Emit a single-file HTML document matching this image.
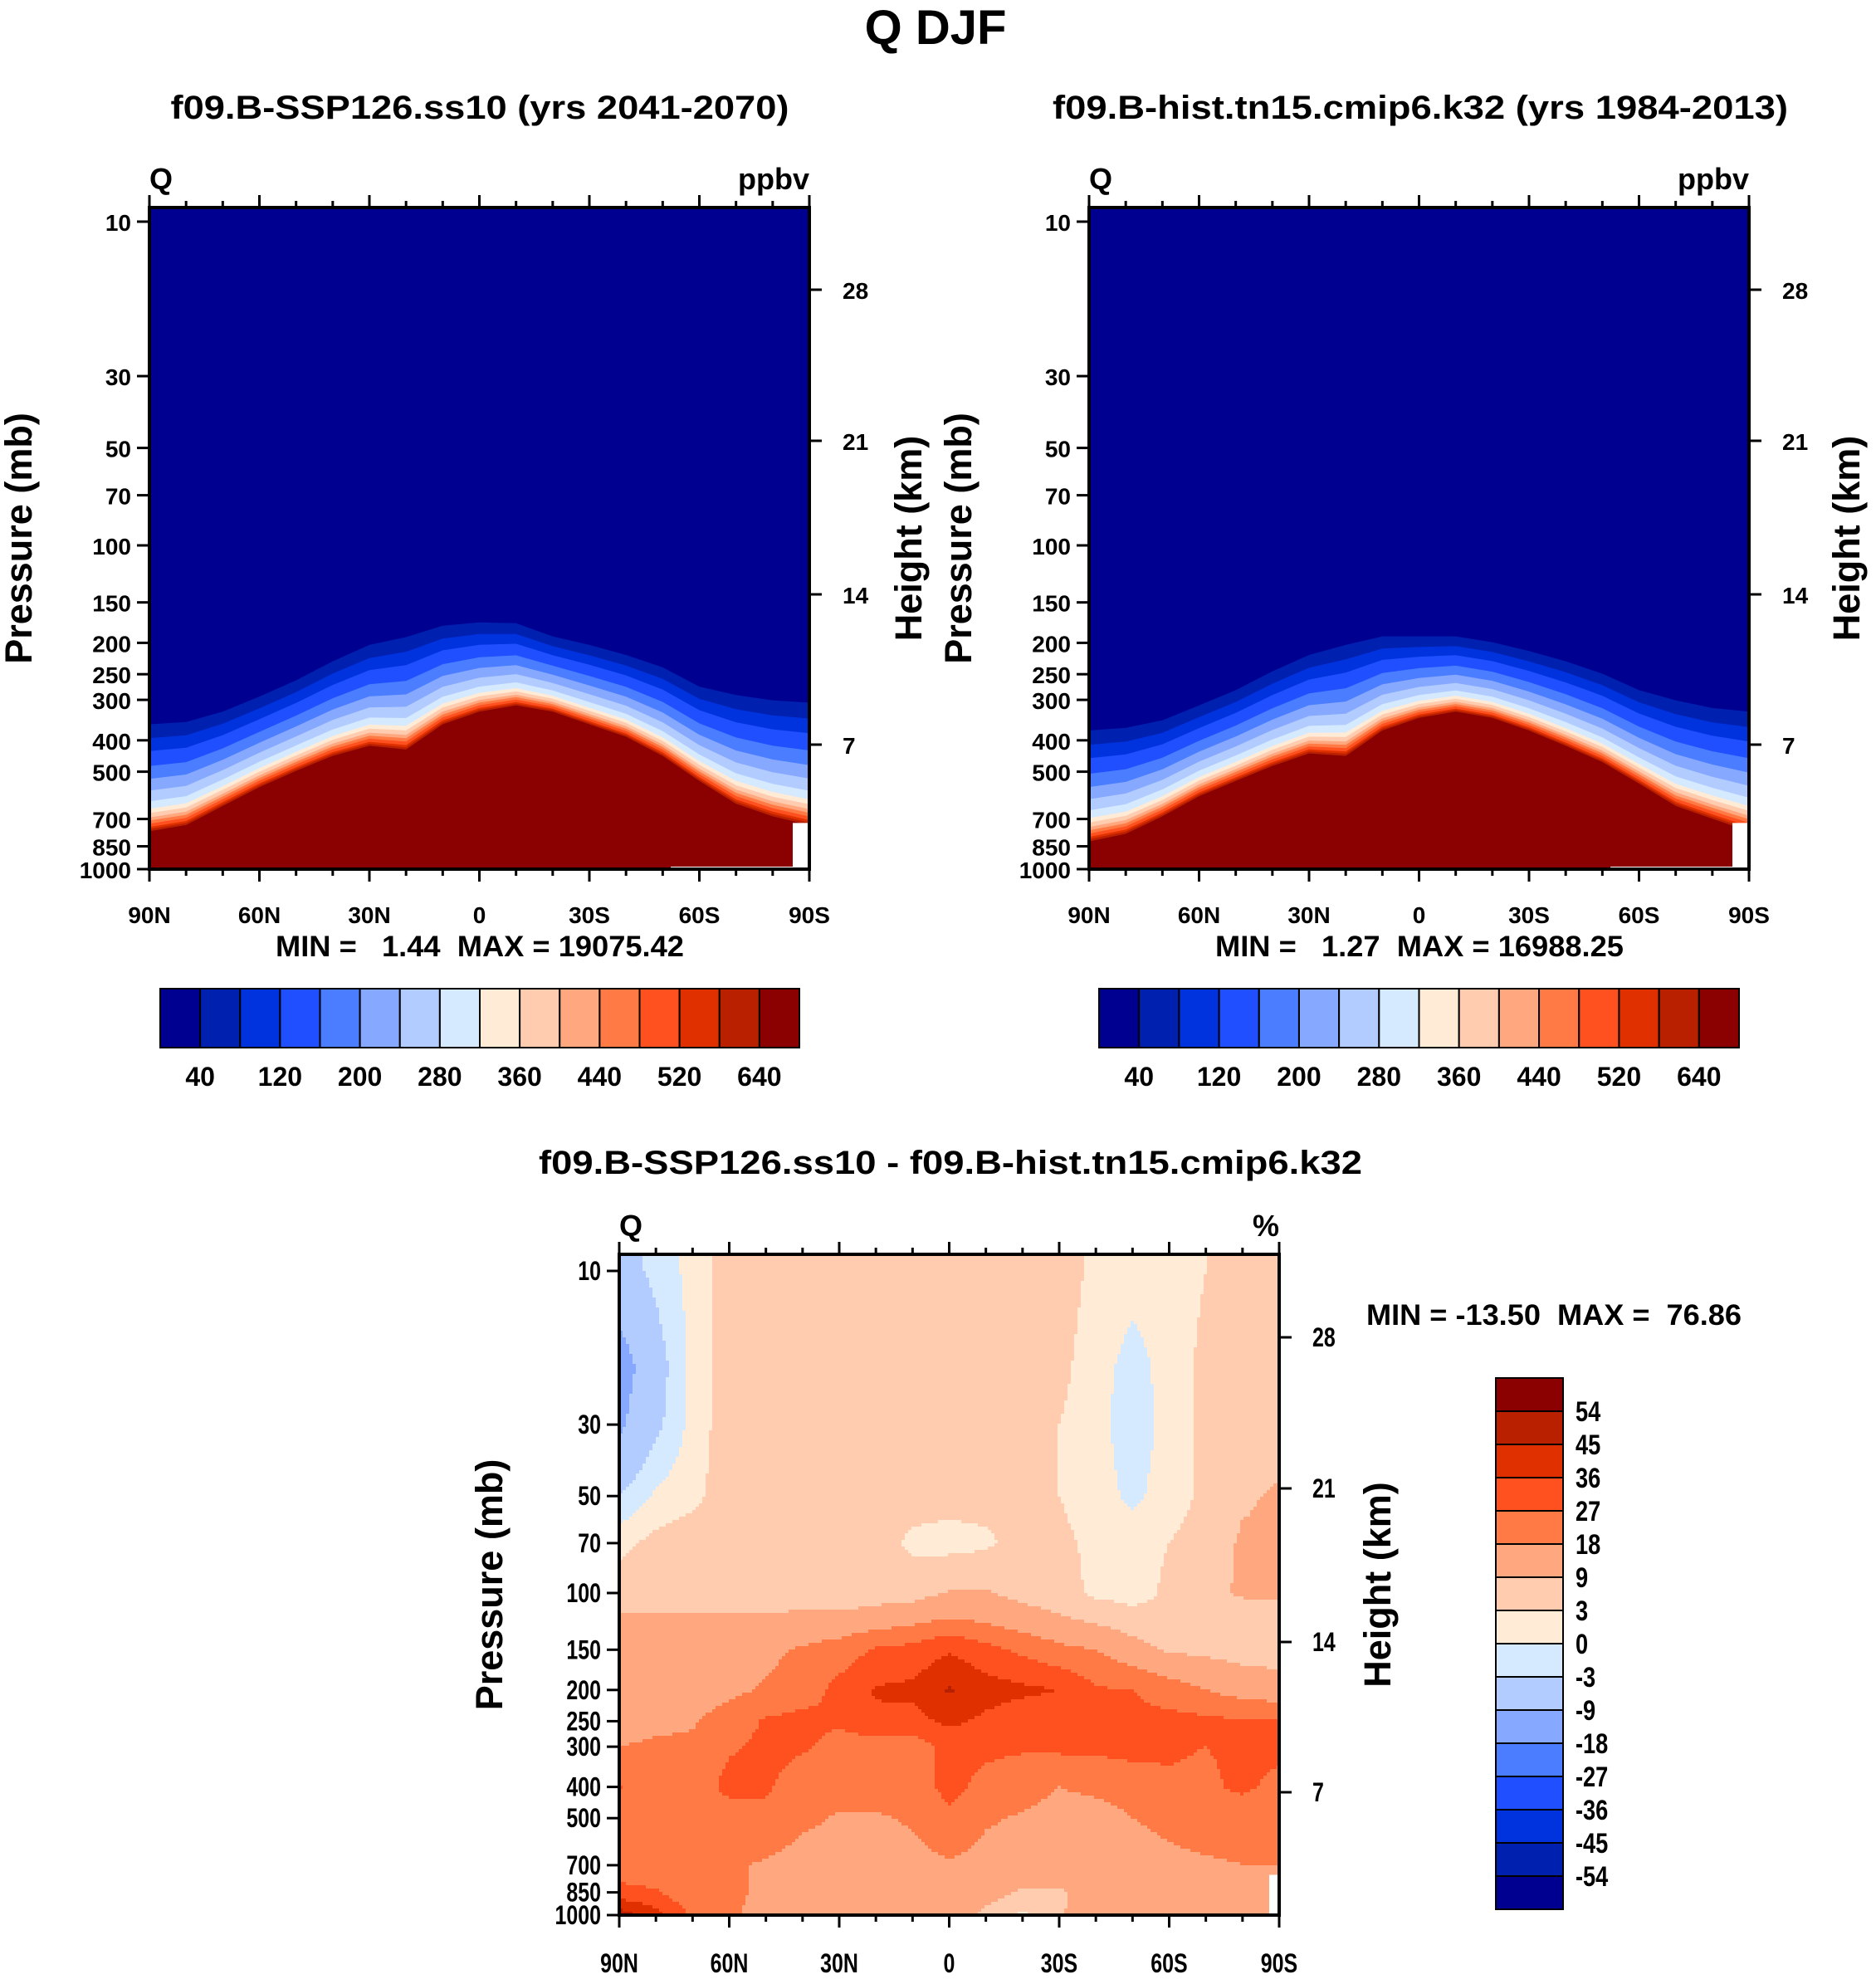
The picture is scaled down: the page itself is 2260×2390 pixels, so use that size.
<!DOCTYPE html>
<html><head><meta charset="utf-8"><style>
html,body{margin:0;padding:0;background:#fff}
svg text{font-family:"Liberation Sans",sans-serif;font-weight:bold;fill:#000}
</style></head><body>
<svg id="fig" xmlns="http://www.w3.org/2000/svg" width="2260" height="2385" viewBox="0 0 2260 2385">
<rect width="2260" height="2385" fill="#fff"/>
<text x="1127" y="53" font-size="58" text-anchor="middle">Q DJF</text>
</svg>
<script>
const palette=['#000090','#0020B0','#0033DD','#1F4FFF','#4A7DFF','#86A8FF','#B3CCFF','#D6EAFF','#FFEBD6','#FFCCB0','#FFA880','#FF7A45','#FF5020','#E03000','#B82000','#8B0000'];
const lats=[90,80,70,60,50,40,30,20,10,0,-10,-20,-30,-40,-50,-60,-70,-80,-90];
// panel 1 & 2: pressure (mb) of the lowest contour (40) and highest contour (640)
const p1Top=[357,351,326,293,261,228,203,192,177,173,174,191,203,218,238,273,290,301,306];
const p1Red=[764,731,638,558,497,447,416,427,357,326,312,326,357,390,447,534,628,687,731];
const p2Top=[373,366,347,312,280,245,218,203,191,191,191,199,212,228,249,280,301,318,326];
const p2Red=[821,778,687,595,534,480,439,447,373,341,326,341,373,416,467,544,638,699,764];
const bandFrac=[0,.13,.25,.39,.51,.62,.72,.79,.83,.87,.9,.93,.96,.98,1];
const cbLabels=['40','','120','','200','','280','','360','','440','','520','','640'];
// panel 3 difference (%)
const dLevels=[10,20,30,50,70,100,120,150,200,250,300,400,500,700,850,1000];
const dRows=[
[-5,-2,1,5,5,5,5,5,5,5,5,5,5,2,1,1,3,5,5],
[-12,-5,1,5,5,5,5,5,5,5,5,5,4,1,-1,1,4,5,5],
[-10,-4,1,5,5,5,5,5,5,5,5,5,3,1,-1.5,1,4,5,5],
[-3,0.5,2,5,5,5,5,5,5,5,5,5,3,1,-0.5,1,4,8,10],
[2,4,5,5,5,5,5,5,2,1,2,5,4,2,1,3,5,10,10],
[5,5,5,5,5,5,5,6,6,9.5,9.5,7,5,2,1,4,7,10,10],
[10,10,10,10,10,11,11,12,15,18,16,12,10,7,5,4,5,5,5],
[12,12,13,14,16,19,22,28,30,35,30,25,20,18,12,8,7,6,6],
[12,13,14,16,19,22,30,37,38,46,40,38,36,28,27,22,18,14,12],
[12,15,17,22,28,30,28,34,33,38,34,30,30,30,30,30,29,28,28],
[18,20,20,26,29,28,24,22,22,30,29,28,29,29,30,28,27,29,30],
[28,20,21,30,28,23,22,22,22,30,24,22,18,20,22,26,25,29,24],
[22,20,20,22,25,20,17,17,19,25,19,17,14,14,18,20,22,21,20],
[22,20,20,19,17,14,14,15,15,17,15,15,14,13,14,16,17,18,18],
[30,28,20,19,17,14,14,14,14,15,12,8,8,12,14,15,15,15,15],
[50,40,25,19,16,14,14,14,14,14,7,2,8,14,14,14,14,14,14]];
const dBounds=[-54,-45,-36,-27,-18,-9,-3,0,3,9,18,27,36,45,54];
const dLabels=['54','45','36','27','18','9','3','0','-3','-9','-18','-27','-36','-45','-54'];
const pTicks=[10,30,50,70,100,150,200,250,300,400,500,700,850,1000];
const hTicks=['28','21','14','7'];
const latTickLabels=['90N','60N','30N','0','30S','60S','90S'];

const NS='http://www.w3.org/2000/svg';
const svg=document.getElementById('fig');
function mk(tag,attrs,parent,txt){const e=document.createElementNS(NS,tag);for(const k in attrs)e.setAttribute(k,attrs[k]);if(txt!==undefined)e.textContent=txt;(parent||svg).appendChild(e);return e;}

function panel(cfg){
  const g=mk('g',{});
  
  
  const {L,R,T,B,y10,dec}=cfg;
  const xOf=lat=>L+(90-lat)/180*(R-L);
  const yOf=p=>y10+dec*(Math.log10(p)-1);
  const clipId=cfg.name+'-clip';
  const cp=mk('clipPath',{id:clipId},g);mk('rect',{x:L,y:T,width:R-L,height:B-T},cp);
  const field=mk('g',{'clip-path':'url(#'+clipId+')'},g);
  
  
  if(cfg.top){
    mk('rect',{x:L,y:T,width:R-L,height:B-T,fill:palette[0]},field);
    for(let k=0;k<15;k++){
      let pts=[];
      lats.forEach((la,i)=>{const yt=yOf(cfg.top[i]),yr=yOf(cfg.red[i]);pts.push(xOf(la).toFixed(1)+','+(yt+(yr-yt)*bandFrac[k]).toFixed(1));});
      pts.push(R+','+B,L+','+B);
      const pl=mk('polygon',{points:pts.join(' '),fill:palette[k+1]},field);
      
      
    }
    mk('rect',{x:R-20,y:yOf(720),width:20,height:B-yOf(720),fill:'#fff'},field);
    mk('rect',{x:L+(R-L)*0.79,y:B-3,width:(R-L)*0.2,height:3,fill:'#fff'},field);
  } else {
    const ly=dLevels.map(p=>yOf(p));
    const step=4;
    for(let y=T;y<B;y+=step){
      const yc=y+step/2;
      let r=0;while(r<dLevels.length-2&&ly[r+1]<yc)r++;
      let ty=Math.max(0,Math.min(1,(yc-ly[r])/(ly[r+1]-ly[r])));
      let runStart=L,runCol=null;
      for(let x=L;;x+=step){
        const end=x>=R;
        let col=null;
        if(!end){
          const fl=Math.min(17.999,(x+step/2-L)/(R-L)*18);let c=Math.floor(fl);const tx=fl-c;
          const a=dRows[r][c]*(1-tx)+dRows[r][c+1]*tx;
          const b=dRows[r+1][c]*(1-tx)+dRows[r+1][c+1]*tx;
          const v=a*(1-ty)+b*ty;
          let idx=0;while(idx<15&&v>dBounds[idx])idx++;
          col=palette[idx];
        }
        if(col!==runCol){
          if(runCol!==null)mk('rect',{x:runStart,y:y,width:Math.min(x,R)-runStart+0.6,height:step+0.6,fill:runCol},field);
          runCol=col;runStart=x;
        }
        if(end)break;
      }
    }
    mk('rect',{x:R-12,y:yOf(750),width:12,height:B-yOf(750),fill:'#fff'},field);
  }
  const fr=mk('rect',{x:L,y:T,width:R-L,height:B-T,fill:'none',stroke:'#000','stroke-width':4},g);
  
  const cond=cfg.cond?' scale(0.78,1)':'';
  const fs=cfg.cond?32:28;
  for(let la=90;la>=-90;la-=10){
    const x=xOf(la);const maj=la%30===0;const len=maj?15:8;
    mk('line',{x1:x,y1:T,x2:x,y2:T-len,stroke:'#000','stroke-width':3},g);
    mk('line',{x1:x,y1:B,x2:x,y2:B+len,stroke:'#000','stroke-width':3},g);
  }
  latTickLabels.forEach((t,i)=>{const x=L+i*(R-L)/6;
    const tx=mk('text',{x:0,y:0,'font-size':fs,'text-anchor':'middle',transform:'translate('+x+','+cfg.latY+')'+cond},g,t);
    });
  pTicks.forEach(p=>{const y=yOf(p);
    mk('line',{x1:L,y1:y,x2:L-15,y2:y,stroke:'#000','stroke-width':3},g);
    const tx=mk('text',{x:0,y:0,'font-size':fs,'text-anchor':'end',transform:'translate('+(L-22)+','+(y+11)+')'+cond},g,String(p));
    });
  hTicks.forEach((h,i)=>{const y=cfg.hY[i];
    mk('line',{x1:R,y1:y,x2:R+15,y2:y,stroke:'#000','stroke-width':3},g);
    const tx=mk('text',{x:0,y:0,'font-size':fs,transform:'translate('+(R+40)+','+(y+11)+')'+cond},g,h);
    });
  let t;
  t=mk('text',{x:0,y:0,'font-size':45,'text-anchor':'middle',transform:'translate('+cfg.pX+','+((T+B)/2)+') rotate(-90)'},g,'Pressure (mb)');
  
  t=mk('text',{x:0,y:0,'font-size':45,'text-anchor':'middle',transform:'translate('+cfg.hX+','+((T+B)/2)+') rotate(-90)'},g,'Height (km)');
  
  t=mk('text',{x:L,y:T-22,'font-size':36},g,'Q');
  
  t=mk('text',{x:R,y:T-22,'font-size':36,'text-anchor':'end'},g,cfg.unit);
  
  t=mk('text',{x:cfg.sub[1],y:cfg.sub[2],'font-size':40,'text-anchor':'middle',textLength:cfg.sub[3],lengthAdjust:'spacingAndGlyphs'},g,cfg.sub[0]);
  
  t=mk('text',{x:cfg.mm[1],y:cfg.mm[2],'font-size':35,'text-anchor':cfg.mm[4]||'middle',textLength:cfg.mm[3],lengthAdjust:'spacingAndGlyphs'},g,cfg.mm[0]);
  
}

function hbar(x0,x1,y0,y1,name){
  const g=mk('g',{});
  const w=(x1-x0)/16;
  palette.forEach((c,i)=>{const r=mk('rect',{x:x0+i*w,y:y0,width:w,height:y1-y0,fill:c,stroke:'#000','stroke-width':2},g);
    });
  cbLabels.forEach((l,i)=>{if(!l)return;const t=mk('text',{x:x0+(i+1)*w,y:y1+46,'font-size':32,'text-anchor':'middle'},g,l);
    });
}
const sp='\u00a0';
panel({name:'panel-ssp126',L:180,R:975,T:250,B:1047,y10:267,dec:390,latY:1112,hY:[349,531,716,897],pX:38,hX:1110,unit:'ppbv',
  sub:['f09.B-SSP126.ss10 (yrs 2041-2070)',578,143,745],mm:['MIN ='+sp+sp+sp+'1.44'+sp+sp+'MAX = 19075.42',578,1152,492],top:p1Top,red:p1Red});
panel({name:'panel-hist',L:1312,R:2107,T:250,B:1047,y10:267,dec:390,latY:1112,hY:[349,531,716,897],pX:1170,hX:2240,unit:'ppbv',
  sub:['f09.B-hist.tn15.cmip6.k32 (yrs 1984-2013)',1711,143,886],mm:['MIN ='+sp+sp+sp+'1.27'+sp+sp+'MAX = 16988.25',1710,1152,492],top:p2Top,red:p2Red});
hbar(193,963,1191,1262,'colorbar-ssp126');
hbar(1324,2095,1191,1262,'colorbar-hist');
panel({name:'panel-difference',L:746,R:1541,T:1511,B:2307,y10:1531,dec:388,latY:2376,hY:[1611,1793,1978,2159],pX:605,hX:1675,unit:'%',cond:true,
  sub:['f09.B-SSP126.ss10 - f09.B-hist.tn15.cmip6.k32',1145,1414,992],mm:['MIN = -13.50'+sp+sp+'MAX ='+sp+sp+'76.86',1646,1596,452,'start']});
(function(){
  const g=mk('g',{});
  const x0=1802,x1=1883,y0=1660,h=40;
  for(let i=0;i<16;i++){const r=mk('rect',{x:x0,y:y0+i*h,width:x1-x0,height:h,fill:palette[15-i],stroke:'#000','stroke-width':2},g);
    }
  dLabels.forEach((l,i)=>{const t=mk('text',{x:0,y:0,'font-size':34,transform:'translate(1898,'+(y0+(i+1)*h+12)+') scale(0.8,1)'},g,l);
    });
})();
</script>
</body></html>
